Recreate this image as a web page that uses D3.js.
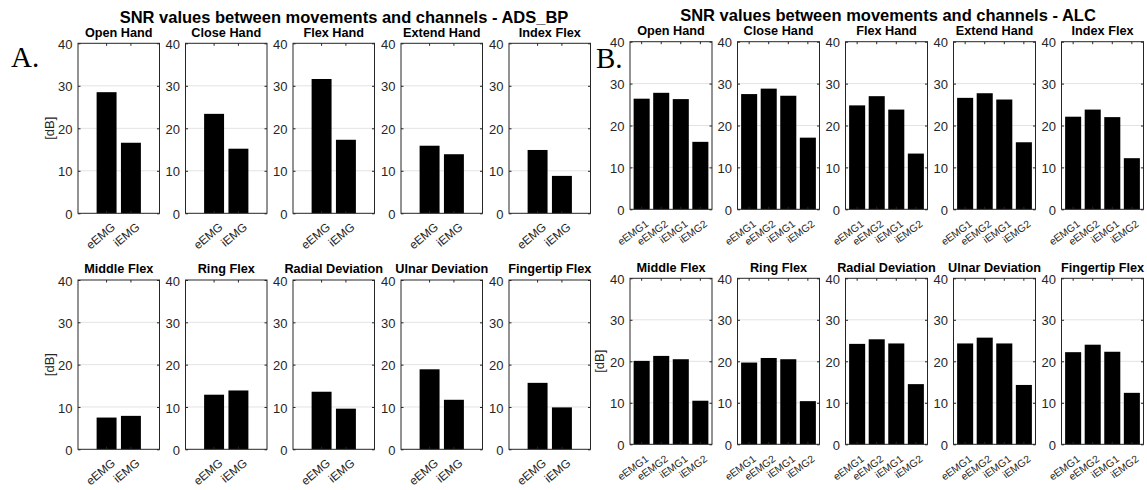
<!DOCTYPE html>
<html>
<head>
<meta charset="utf-8">
<script src="https://cdn.jsdelivr.net/npm/d3@7"></script>
<style>
  html, body { margin: 0; padding: 0; background: #fff; }
  svg { display: block; font-family: "Liberation Sans", Arial, Helvetica, sans-serif; }
</style>
</head>
<body>
<script>
// Movements shown in each 2x5 grid of subplots
const movements = ["Open Hand", "Close Hand", "Flex Hand", "Extend Hand", "Index Flex",
                   "Middle Flex", "Ring Flex", "Radial Deviation", "Ulnar Deviation", "Fingertip Flex"];

// Channels of each recording setup
const channelsBP  = ["eEMG", "iEMG"];
const channelsALC = ["eEMG1", "eEMG2", "iEMG1", "iEMG2"];

// SNR [dB] per movement, ADS_BP setup
const snrBP_eEMG = [28.5, 23.4, 31.6, 15.9, 14.9, 7.5, 12.9, 13.6, 18.9, 15.7];
const snrBP_iEMG = [16.6, 15.2, 17.3, 13.9, 8.8, 7.9, 13.9, 9.6, 11.7, 9.9];

// SNR [dB] per movement, ALC setup
const snrALC_eEMG1 = [26.4, 27.5, 24.8, 26.6, 22.1, 20.1, 19.7, 24.2, 24.3, 22.2];
const snrALC_eEMG2 = [27.8, 28.8, 27.0, 27.7, 23.8, 21.3, 20.8, 25.3, 25.7, 24.0];
const snrALC_iEMG1 = [26.3, 27.1, 23.8, 26.2, 22.0, 20.5, 20.5, 24.3, 24.3, 22.3];
const snrALC_iEMG2 = [16.1, 17.1, 13.3, 16.0, 12.2, 10.5, 10.4, 14.5, 14.3, 12.4];

// Y axis
const yDomain = [0, 40];
const yTicks  = [0, 10, 20, 30, 40];

const W = 1147, H = 490;
const AX = "#262626";
const GRID = "#e3e3e3";

const svg = d3.select("body").append("svg")
  .attr("width", W).attr("height", H);
svg.append("rect").attr("width", W).attr("height", H).attr("fill", "#fff");

const panels = [
  {
    letter: "A.", letterX: 11, letterY: 66.5,
    title: "SNR values between movements and channels - ADS_BP", titleX: 344, titleY: 22.8,
    channels: channelsBP,
    series: [snrBP_eEMG, snrBP_iEMG],
    lefts: [78, 185.5, 293, 401, 509], width: 81.5,
    rows: [[43.3, 213.3], [280, 449.3]],
    outer: 0.765,
    labelSize: 11.8, labelAngle: 40, labelDx: 9.5, labelDy: 15,
    ylabelRows: [0, 1], ylabelOffset: 28.5
  },
  {
    letter: "B.", letterX: 596, letterY: 67.5,
    title: "SNR values between movements and channels - ALC", titleX: 888, titleY: 20.5,
    channels: channelsALC,
    series: [snrALC_eEMG1, snrALC_eEMG2, snrALC_iEMG1, snrALC_iEMG2],
    lefts: [630, 737.5, 845.5, 953.5, 1061.5], width: 82,
    rows: [[41.7, 209.3], [278.3, 444.3]],
    outer: 0.185,
    labelSize: 10.3, labelAngle: 36, labelDx: 7.5, labelDy: 16,
    ylabelRows: [1], ylabelOffset: 31
  }
];

panels.forEach(p => {
  const g = svg.append("g");

  // panel letter
  g.append("text")
    .attr("x", p.letterX).attr("y", p.letterY)
    .attr("font-family", "'Liberation Serif', 'Times New Roman', serif")
    .attr("font-size", 29).attr("fill", "#000")
    .text(p.letter);

  // overall title
  g.append("text")
    .attr("x", p.titleX).attr("y", p.titleY)
    .attr("text-anchor", "middle")
    .attr("font-weight", "bold").attr("font-size", 16.5).attr("fill", "#000")
    .text(p.title);

  movements.forEach((mv, i) => {
    const row = Math.floor(i / 5), col = i % 5;
    const [top, bottom] = p.rows[row];
    const left = p.lefts[col];
    const w = p.width;

    const x = d3.scaleBand()
      .domain(p.channels)
      .range([left, left + w])
      .paddingInner(0.18)
      .paddingOuter(p.outer);
    const y = d3.scaleLinear().domain(yDomain).range([bottom, top]);

    const ax = g.append("g");

    // grid lines
    ax.selectAll("line.grid")
      .data(yTicks.filter(t => t > yDomain[0] && t < yDomain[1]))
      .join("line")
      .attr("x1", left).attr("x2", left + w)
      .attr("y1", d => y(d)).attr("y2", d => y(d))
      .attr("stroke", GRID).attr("stroke-width", 1);

    // bars
    const vals = p.channels.map((c, k) => ({ c, v: p.series[k][i] }));
    ax.selectAll("rect.bar")
      .data(vals)
      .join("rect")
      .attr("x", d => x(d.c))
      .attr("width", x.bandwidth())
      .attr("y", d => y(d.v))
      .attr("height", d => y(0) - y(d.v))
      .attr("fill", "#000");

    // y ticks on both sides, pointing inward
    const yAxisL = d3.axisRight(y).tickValues(yTicks).tickSize(2.5).tickFormat("");
    ax.append("g").attr("transform", `translate(${left},0)`).call(yAxisL)
      .call(s => s.select(".domain").remove())
      .selectAll("line").attr("stroke", AX);
    const yAxisR = d3.axisLeft(y).tickValues(yTicks).tickSize(2.5).tickFormat("");
    ax.append("g").attr("transform", `translate(${left + w},0)`).call(yAxisR)
      .call(s => s.select(".domain").remove())
      .selectAll("line").attr("stroke", AX);

    // y tick labels
    ax.selectAll("text.ytl")
      .data(yTicks)
      .join("text")
      .attr("x", left - 5.5).attr("y", d => y(d) + 1)
      .attr("dy", "0.36em")
      .attr("text-anchor", "end")
      .attr("font-size", 13).attr("fill", AX)
      .text(d => d);

    // x ticks, top and bottom, inward
    const xAxisB = d3.axisTop(x).tickSize(2.5).tickFormat("");
    ax.append("g").attr("transform", `translate(0,${bottom})`).call(xAxisB)
      .call(s => s.select(".domain").remove())
      .selectAll("line").attr("stroke", AX);
    const xAxisT = d3.axisBottom(x).tickSize(2.5).tickFormat("");
    ax.append("g").attr("transform", `translate(0,${top})`).call(xAxisT)
      .call(s => s.select(".domain").remove())
      .selectAll("line").attr("stroke", AX);

    // rotated x tick labels
    ax.selectAll("text.xtl")
      .data(p.channels)
      .join("text")
      .attr("transform", d => `translate(${x(d) + x.bandwidth() / 2 + p.labelDx},${bottom + p.labelDy}) rotate(${-p.labelAngle})`)
      .attr("text-anchor", "end")
      .attr("font-size", p.labelSize).attr("fill", AX)
      .text(d => d);

    // axes box
    ax.append("rect")
      .attr("x", left).attr("y", top)
      .attr("width", w).attr("height", bottom - top)
      .attr("fill", "none").attr("stroke", AX).attr("stroke-width", 1);

    // subplot title
    ax.append("text")
      .attr("x", left + w / 2).attr("y", top - 6.8)
      .attr("text-anchor", "middle")
      .attr("font-weight", "bold").attr("font-size", 12.7).attr("fill", "#000")
      .text(mv);

    // y label on first subplot of the row
    if (col === 0 && p.ylabelRows.includes(row)) {
      ax.append("text")
        .attr("transform", `translate(${left - p.ylabelOffset},${(top + bottom) / 2}) rotate(-90)`)
        .attr("text-anchor", "middle")
        .attr("dy", "0.36em")
        .attr("font-size", 13).attr("fill", AX)
        .text("[dB]");
    }
  });
});
</script>
</body>
</html>
